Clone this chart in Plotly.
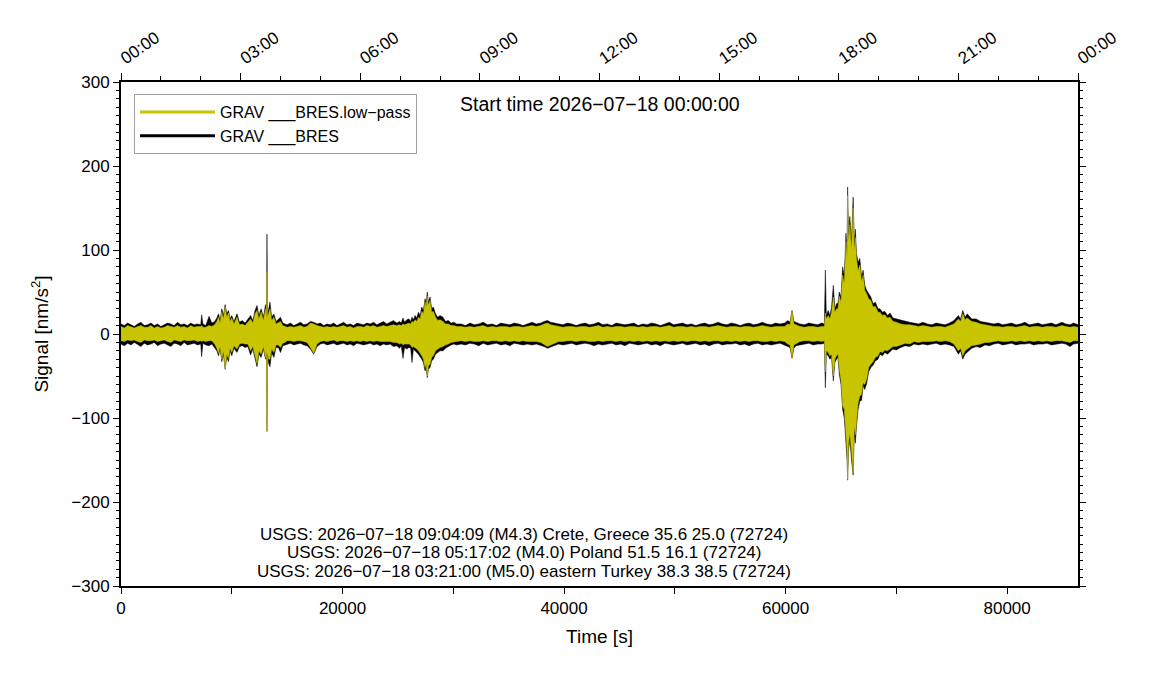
import plotly.graph_objects as go

# envelope of the traces (time in s, signal in nm/s^2)
t_env = [
    0, 300, 600, 900, 1200, 1500, 1800, 2100, 2400, 2700, 3000, 3300, 3600, 3900, 4200, 4500, 4800, 5100,
    5400, 5700, 6000, 6300, 6600, 6900,
    7200, 7280, 7400, 7650, 7950, 8200, 8450, 8650, 8800, 8950, 9100, 9250, 9400, 9550, 9700, 9850, 10000,
    10200, 10470, 10700, 10950, 11200, 11450, 11700, 11900, 12100, 12280, 12450, 12650, 12850, 13050,
    13140, 13180, 13220, 13330, 13450, 13600, 13800, 14000, 14200, 14400, 14600, 14800,
    15000, 15300, 15600, 15900, 16200, 16500, 16800, 17100, 17400, 17700, 18000, 18300, 18600, 18900,
    19200, 19500, 19800, 20100, 20400, 20700, 21000, 21300, 21600, 21900, 22200, 22500, 22800, 23100,
    23400, 23700, 24000, 24300, 24600, 24900,
    25150, 25300, 25460, 25600, 25800, 26000, 26150, 26270, 26400, 26550, 26700, 26850, 27000, 27150,
    27300, 27450, 27550, 27650, 27750, 27900, 28050, 28200, 28400, 28600, 28800, 29070, 29300, 29550,
    29800, 30050, 30300,
    30700, 31100, 31500, 31900, 32300, 32700, 33100, 33500, 33900, 34300, 34700, 35100, 35500, 35900,
    36300, 36700, 37100, 37500, 37900, 38200, 38500, 38800, 39100, 39500, 39900, 40300, 40700, 41100,
    41500, 41900, 42300, 42700, 43100, 43500, 43900, 44300, 44700, 45100, 45500, 45900, 46300, 46700,
    47100, 47500, 47900, 48300, 48700, 49100, 49500, 49900, 50300, 50700, 51100, 51500, 51900, 52300,
    52700, 53100, 53500, 53900, 54300, 54700, 55100, 55500, 55900, 56300, 56700, 57100, 57500, 57900,
    58300, 58700, 59100, 59500, 59900,
    60200, 60400, 60580, 60750, 60950, 61300, 61700, 62100, 62500, 62900, 63250, 63500, 63590, 63680,
    63850, 64000, 64150, 64310, 64450, 64600, 64730, 64850, 65000, 65150, 65300, 65450, 65550, 65600,
    65680, 65800, 65950, 66100, 66200, 66300, 66400, 66550, 66700, 66860, 67000, 67150, 67320, 67500,
    67700, 67900, 68100, 68350, 68520, 68750, 68950, 69200, 69430, 69700, 70000,
    70400, 70800, 71200, 71600, 72000, 72400, 72800, 73200, 73600, 74000, 74400, 74800, 75200, 75600,
    75800, 76000, 76200, 76400, 76800, 77200, 77600, 78000, 78400, 78800, 79200, 79600, 80000, 80400,
    80800, 81200, 81600, 82000, 82400, 82800, 83200, 83600, 84000, 84400, 84950, 85300, 85680, 86000,
    86400,
]
raw_max = [
    12, 10, 13, 11, 9, 12, 14, 10, 11, 13, 10, 12, 9, 11, 13, 12, 10, 14,
    11, 12, 10, 13, 11, 12,
    11, 23, 12, 10, 21, 13, 15, 19, 24, 16, 30, 22, 35, 24, 28, 18, 22,
    15, 24, 14, 16, 13, 17, 22, 16, 28, 34, 22, 30, 20, 35,
    22, 119, 24, 30, 38, 20, 24, 15, 18, 20, 13, 12,
    11, 13, 10, 12, 14, 11, 12, 15, 14, 12, 13, 10, 12, 11,
    13, 10, 12, 14, 11, 12, 10, 13, 12, 11, 13, 12, 14, 11,
    13, 15, 12, 14, 16, 13,
    15, 13, 19, 14, 17, 18, 15, 20, 17, 22, 19, 26, 22, 32,
    28, 42, 36, 50, 38, 44, 30, 32, 24, 20, 22, 20, 15, 16,
    13, 14, 12,
    12, 10, 13, 11, 12, 14, 11, 12, 10, 13, 12, 11, 13, 12,
    10, 12, 14, 12, 13, 15, 16, 14, 13, 12, 11, 13, 12, 10,
    12, 13, 11, 12, 14, 11, 12, 10, 13, 12, 11, 12, 13, 10,
    12, 11, 13, 12, 10, 12, 14, 11, 12, 13, 11, 12, 10, 12,
    13, 11, 12, 14, 12, 11, 13, 12, 10, 12, 13, 11, 12, 14,
    12, 11, 13, 12, 13,
    16, 14, 28, 15, 14, 12, 11, 13, 12, 11, 13, 12, 76, 22,
    28, 22, 32, 58, 30, 36, 37, 50, 44, 80, 70, 120, 100, 175,
    120, 140, 110, 163, 110, 125, 96, 85, 90, 68, 76, 58, 52, 48,
    44, 36, 38, 30, 30, 26, 27, 22, 25, 19, 18,
    16, 15, 14, 13, 12, 14, 12, 11, 13, 12, 11, 13, 16, 22,
    18, 28, 20, 24, 18, 18, 15, 14, 13, 12, 13, 11, 12, 13,
    11, 12, 14, 11, 12, 13, 11, 12, 13, 11, 14, 12, 11, 13,
    11,
]
raw_min = [
    -12, -14, -11, -13, -10, -12, -15, -11, -13, -12, -10, -14, -12, -11, -13, -15, -11, -12,
    -14, -10, -13, -12, -11, -13,
    -12, -27, -11, -13, -14, -12, -16, -20, -26, -18, -33, -24, -42, -28, -33, -20, -26,
    -17, -22, -15, -14, -16, -15, -25, -18, -30, -39, -24, -28, -18, -30,
    -24, -116, -26, -35, -39, -22, -28, -16, -16, -22, -14, -13,
    -12, -11, -13, -12, -11, -13, -14, -18, -24, -15, -12, -11, -13, -12,
    -11, -13, -12, -11, -13, -12, -14, -11, -12, -13, -12, -11, -13, -12,
    -14, -12, -13, -12, -15, -14,
    -17, -14, -29, -16, -18, -16, -17, -34, -18, -20, -22, -24, -26, -30,
    -34, -44, -40, -52, -42, -40, -32, -30, -24, -22, -20, -20, -17, -15,
    -13, -12, -13,
    -12, -13, -11, -12, -14, -11, -13, -12, -11, -13, -12, -14, -11, -12,
    -13, -12, -13, -12, -14, -15, -17, -16, -14, -12, -13, -12, -11, -13,
    -12, -11, -12, -14, -12, -13, -12, -11, -13, -12, -14, -11, -12, -13,
    -12, -11, -13, -12, -14, -11, -12, -13, -12, -11, -13, -12, -11, -13,
    -12, -14, -12, -11, -13, -12, -12, -11, -13, -12, -14, -12, -11, -13,
    -12, -13, -12, -11, -13,
    -15, -16, -29, -17, -14, -13, -12, -11, -13, -12, -12, -11, -64, -24,
    -26, -30, -28, -56, -34, -30, -28, -48, -60, -90, -100, -130, -150, -174,
    -140, -125, -150, -168, -120, -130, -110, -90, -80, -79, -62, -66, -59, -45,
    -40, -37, -32, -30, -24, -26, -22, -24, -21, -18, -19,
    -16, -14, -15, -12, -13, -12, -13, -12, -11, -13, -12, -13, -15, -24,
    -20, -30, -24, -22, -17, -15, -16, -13, -14, -12, -11, -13, -12, -11,
    -13, -12, -12, -11, -13, -12, -12, -11, -13, -12, -11, -12, -15, -12,
    -11,
]
lp_max = [
    9, 7, 10, 8, 7, 9, 10, 8, 8, 10, 7, 9, 7, 8, 10, 9, 8, 10,
    8, 9, 7, 10, 8, 9,
    9, 10, 8, 8, 10, 9, 11, 15, 20, 13, 26, 18, 32, 20, 25, 15, 19,
    12, 20, 11, 12, 10, 14, 18, 13, 24, 28, 18, 26, 16, 30,
    18, 74, 20, 25, 30, 16, 20, 12, 14, 15, 10, 9,
    8, 9, 8, 9, 10, 8, 9, 13, 12, 10, 9, 8, 9, 8,
    9, 8, 9, 10, 8, 9, 7, 9, 9, 8, 10, 9, 10, 8,
    9, 10, 9, 10, 11, 10,
    11, 10, 12, 11, 12, 13, 12, 15, 14, 17, 15, 20, 18, 27,
    24, 38, 32, 45, 34, 40, 26, 27, 20, 16, 17, 15, 12, 12,
    10, 10, 9,
    9, 8, 9, 8, 9, 10, 8, 9, 8, 9, 9, 8, 9, 9,
    8, 9, 10, 9, 10, 12, 13, 11, 10, 9, 8, 9, 9, 8,
    9, 9, 8, 9, 10, 8, 9, 8, 9, 9, 8, 9, 9, 8,
    9, 8, 9, 9, 8, 9, 10, 8, 9, 9, 8, 9, 8, 9,
    9, 8, 9, 10, 9, 8, 9, 9, 8, 9, 9, 8, 9, 10,
    9, 8, 9, 9, 9,
    12, 11, 27, 12, 11, 9, 8, 9, 9, 8, 9, 9, 25, 18,
    22, 18, 26, 44, 26, 30, 30, 45, 38, 70, 60, 110, 90, 165,
    110, 130, 100, 150, 100, 115, 90, 75, 82, 62, 70, 52, 48, 42,
    40, 32, 33, 26, 26, 22, 23, 19, 20, 15, 14,
    12, 11, 11, 10, 9, 10, 9, 8, 9, 9, 8, 10, 12, 18,
    15, 24, 17, 19, 15, 14, 12, 11, 10, 9, 9, 8, 9, 9,
    8, 9, 10, 8, 9, 9, 8, 9, 9, 8, 10, 9, 8, 9,
    8,
]
lp_min = [
    -8, -9, -7, -8, -7, -9, -10, -7, -8, -8, -7, -9, -8, -7, -9, -10, -7, -8,
    -9, -7, -8, -8, -7, -9,
    -8, -9, -8, -9, -8, -8, -12, -17, -23, -15, -30, -20, -41, -24, -29, -17, -22,
    -14, -18, -12, -11, -12, -12, -20, -15, -26, -35, -20, -24, -15, -28,
    -20, -115, -22, -30, -30, -18, -22, -13, -13, -16, -11, -10,
    -8, -8, -9, -8, -8, -9, -10, -16, -23, -12, -9, -8, -9, -8,
    -7, -9, -8, -8, -9, -8, -9, -8, -9, -8, -9, -8, -9, -8,
    -9, -9, -9, -9, -10, -10,
    -12, -11, -13, -12, -12, -12, -13, -16, -15, -16, -18, -20, -22, -26,
    -30, -40, -36, -50, -38, -36, -28, -26, -20, -18, -16, -15, -13, -12,
    -10, -9, -9,
    -8, -9, -8, -9, -9, -8, -9, -8, -8, -9, -8, -9, -8, -9,
    -8, -9, -9, -9, -10, -12, -15, -13, -11, -9, -9, -8, -8, -9,
    -8, -8, -9, -9, -8, -9, -8, -8, -9, -8, -9, -8, -9, -8,
    -9, -8, -9, -8, -9, -8, -9, -8, -9, -8, -9, -8, -8, -9,
    -8, -9, -8, -8, -9, -8, -9, -8, -9, -8, -9, -8, -8, -9,
    -9, -8, -9, -8, -9,
    -12, -13, -28, -13, -11, -9, -8, -8, -9, -8, -9, -8, -45, -20,
    -22, -26, -24, -50, -30, -26, -24, -42, -55, -85, -90, -120, -140, -173,
    -130, -118, -140, -165, -110, -120, -105, -82, -74, -72, -58, -60, -54, -40,
    -36, -33, -28, -26, -21, -22, -19, -20, -18, -15, -15,
    -13, -11, -12, -9, -10, -9, -9, -9, -8, -9, -8, -9, -12, -20,
    -17, -26, -20, -18, -14, -13, -12, -10, -10, -9, -8, -9, -9, -8,
    -9, -8, -9, -8, -9, -8, -9, -8, -9, -8, -8, -9, -10, -8,
    -8,
]
assert len(t_env) == len(raw_max) == len(raw_min) == len(lp_max) == len(lp_min), (
    len(t_env), len(raw_max), len(raw_min), len(lp_max), len(lp_min))

hour_ticks = [0, 10800, 21600, 32400, 43200, 54000, 64800, 75600, 86400]
hour_labels = ["00:00", "03:00", "06:00", "09:00", "12:00", "15:00", "18:00", "21:00", "00:00"]

events = [
    "USGS: 2026\u221207\u221218 09:04:09 (M4.3) Crete, Greece 35.6 25.0 (72724)",
    "USGS: 2026\u221207\u221218 05:17:02 (M4.0) Poland 51.5 16.1 (72724)",
    "USGS: 2026\u221207\u221218 03:21:00 (M5.0) eastern Turkey 38.3 38.5 (72724)",
]

YELLOW = "#c8c400"
FONT = "Liberation Sans, Arial, Helvetica, sans-serif"


def band(lo, hi):
    return t_env + t_env[::-1], hi + lo[::-1]


fig = go.Figure()
x, y = band(raw_min, raw_max)
fig.add_trace(go.Scatter(x=x, y=y, fill="toself", fillcolor="black", mode="lines",
                         line={"color": "black", "width": 0.5}, showlegend=False, hoverinfo="skip"))
x, y = band(lp_min, lp_max)
fig.add_trace(go.Scatter(x=x, y=y, fill="toself", fillcolor=YELLOW, mode="lines",
                         line={"color": YELLOW, "width": 0.5}, showlegend=False, hoverinfo="skip"))
# legend entries
fig.add_trace(go.Scatter(x=[None], y=[None], mode="lines", name="GRAV ___BRES.low\u2212pass",
                         line={"color": YELLOW, "width": 3}))
fig.add_trace(go.Scatter(x=[None], y=[None], mode="lines", name="GRAV ___BRES",
                         line={"color": "black", "width": 3}))
# carrier for the top / right frame axes
fig.add_trace(go.Scatter(x=[None], y=[None], xaxis="x2", yaxis="y2", showlegend=False))

for i, txt in enumerate(events):
    fig.add_annotation(text=txt, x=0.421, y=0.103 - i * 0.0375, xref="paper", yref="paper",
                       showarrow=False, font={"size": 17, "color": "black"}, xanchor="center", yanchor="middle")
fig.add_annotation(text="Start time 2026\u221207\u221218 00:00:00", x=0.5, y=0.956, xref="paper", yref="paper",
                   showarrow=False, font={"size": 19.5, "color": "black"}, xanchor="center", yanchor="middle")

axis_common = dict(showline=True, linecolor="black", linewidth=2, showgrid=False, zeroline=False,
                   ticks="outside", tickcolor="black", tickwidth=1)

fig.update_layout(
    width=1143, height=692,
    paper_bgcolor="white", plot_bgcolor="white",
    font={"family": FONT, "color": "black", "size": 17},
    margin={"l": 113, "r": 73, "t": 74, "b": 114},
    showlegend=True,
    legend={"x": 0.0136, "y": 0.976, "xanchor": "left", "yanchor": "top", "bgcolor": "white",
            "bordercolor": "#a0a0a0", "borderwidth": 1, "font": {"size": 16}, "itemwidth": 75},
    xaxis=dict(axis_common, range=[0, 86400], tick0=0, dtick=20000, ticklen=6, tickformat="d",
               minor={"dtick": 10000, "ticklen": 6, "ticks": "outside", "tickcolor": "black"},
               title={"text": "Time [s]", "font": {"size": 19}, "standoff": 12}, tickfont={"size": 17}),
    yaxis=dict(axis_common, range=[-300, 300], tick0=0, dtick=100, ticklen=6,
               minor={"dtick": 10, "ticklen": 3, "ticks": "outside", "tickcolor": "black"},
               title={"text": "Signal [nm/s<sup>2</sup>]", "font": {"size": 19}, "standoff": 18},
               tickfont={"size": 17}),
    xaxis2=dict(axis_common, overlaying="x", side="top", anchor="y", range=[0, 86400],
                tickmode="array", tickvals=hour_ticks, ticktext=hour_labels, tickangle=-35, ticklen=7,
                minor={"dtick": 3600, "tick0": 0, "ticklen": 4, "ticks": "outside", "tickcolor": "black"},
                tickfont={"size": 17}),
    yaxis2=dict(axis_common, overlaying="y", side="right", anchor="x", range=[-300, 300], tick0=0,
                dtick=100, ticklen=6, showticklabels=False,
                minor={"dtick": 10, "ticklen": 3, "ticks": "outside", "tickcolor": "black"}),
)

fig.write_html("out.html")
